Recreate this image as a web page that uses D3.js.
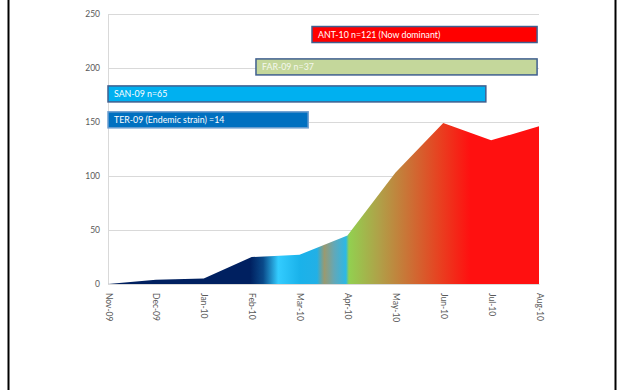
<!DOCTYPE html>
<html>
<head>
<meta charset="utf-8">
<script src="https://cdn.jsdelivr.net/npm/d3@7"></script>
<style>
  html, body { margin: 0; padding: 0; background: #fff; }
  svg { display: block; }
</style>
</head>
<body>
<svg id="chart" width="618" height="390"></svg>
<script>
// ---- data ----
const months = ["Nov-09","Dec-09","Jan-10","Feb-10","Mar-10","Apr-10","May-10","Jun-10","Jul-10","Aug-10"];
const cases  = [0, 4, 5, 25, 27, 45, 103, 149, 133, 146];
const yTicks = [0, 50, 100, 150, 200, 250];

const strainLabels = ["ANT-10 n=121 (Now dominant)", "FAR-09 n=37", "SAN-09 n=65", "TER-09 (Endemic strain) =14"];
const strainStart  = [4.26, 3.09, 0, 0];      // in month index units
const strainEnd    = [8.96, 8.96, 7.89, 4.18];
const strainLevel  = [231, 201, 176, 152];    // centre value on the y axis

// ---- styles ----
const strainFill   = ["#ff0000", "#c4d79b", "#00b0f0", "#0070c0"];
const strainStroke = ["#3f5f8f", "#3f5f8f", "#3f5f8f", "#6d9ecf"];
const strainText   = ["#ffffff", "#f4f7ee", "#ffffff", "#ffffff"];

const svg = d3.select("#chart");
const mLeft = 108, mTop = 14, pw = 431, ph = 270;

const x = d3.scaleLinear().domain([0, months.length - 1]).range([mLeft, mLeft + pw]);
const y = d3.scaleLinear().domain([0, 250]).range([mTop + ph, mTop]);

// frame lines
svg.append("line").attr("x1", 8.5).attr("x2", 8.5).attr("y1", 0).attr("y2", 390)
  .attr("stroke", "#000").attr("stroke-width", 2);
svg.append("line").attr("x1", 615.5).attr("x2", 615.5).attr("y1", 0).attr("y2", 390)
  .attr("stroke", "#000").attr("stroke-width", 2);

// gridlines
svg.append("g")
  .attr("transform", `translate(${mLeft},0)`)
  .call(d3.axisLeft(y).tickValues(yTicks).tickSize(-pw).tickFormat(""))
  .call(g => g.select(".domain").remove())
  .call(g => g.selectAll("line").attr("stroke", "#d9d9d9").attr("stroke-width", 1));

// y axis line
svg.append("line").attr("x1", mLeft + 0.5).attr("x2", mLeft + 0.5).attr("y1", mTop).attr("y2", mTop + ph)
  .attr("stroke", "#d9d9d9");

// gradient
const defs = svg.append("defs");
const grad = defs.append("linearGradient").attr("id", "areaGrad")
  .attr("gradientUnits", "userSpaceOnUse")
  .attr("x1", x(0)).attr("x2", x(months.length - 1)).attr("y1", 0).attr("y2", 0);
const stops = [
  [0.00, "#002060"], [0.33, "#002060"], [0.36, "#0a4a8a"], [0.395, "#33ccff"],
  [0.445, "#1ab2ea"], [0.485, "#22b0e6"], [0.502, "#9a9a70"], [0.525, "#62a8b8"],
  [0.552, "#2cb8e6"], [0.559, "#92d050"], [0.63, "#b0a048"], [0.70, "#cc7035"],
  [0.77, "#e84020"], [0.84, "#ff1010"], [1.00, "#ff1010"]
];
grad.selectAll("stop").data(stops).join("stop")
  .attr("offset", d => d[0]).attr("stop-color", d => d[1]);

// area
const area = d3.area()
  .x((d, i) => x(i))
  .y0(y(0))
  .y1(d => y(d));
svg.append("path").datum(cases).attr("d", area).attr("fill", "url(#areaGrad)");

// y axis labels
svg.append("g")
  .attr("transform", `translate(${mLeft},0)`)
  .call(d3.axisLeft(y).tickValues(yTicks).tickSize(0).tickPadding(8))
  .call(g => g.select(".domain").remove())
  .call(g => g.selectAll("text").attr("fill", "#595959")
    .style("font-family", "Lato, 'Open Sans', sans-serif").style("font-size", "8.5px"));

// x axis labels (rotated)
svg.append("g")
  .attr("transform", `translate(0,${mTop + ph})`)
  .call(d3.axisBottom(x).tickValues(d3.range(months.length)).tickSize(0).tickFormat(i => months[i]))
  .call(g => g.select(".domain").attr("stroke", "#d9d9d9"))
  .call(g => g.selectAll("text")
    .attr("fill", "#595959")
    .style("font-family", "Lato, 'Open Sans', sans-serif").style("font-size", "8.5px")
    .attr("text-anchor", "start")
    .attr("dy", "0.35em")
    .attr("transform", "rotate(90)")
    .attr("x", 9).attr("y", 0));

// strain bars
const barH = 16;
const bars = svg.append("g").selectAll("g").data(strainLabels).join("g");
bars.append("rect")
  .attr("x", (d, i) => x(strainStart[i]))
  .attr("y", (d, i) => y(strainLevel[i]) - barH / 2)
  .attr("width", (d, i) => x(strainEnd[i]) - x(strainStart[i]))
  .attr("height", barH)
  .attr("fill", (d, i) => strainFill[i])
  .attr("stroke", (d, i) => strainStroke[i])
  .attr("stroke-width", 1.5);
bars.append("text")
  .attr("x", (d, i) => x(strainStart[i]) + 6)
  .attr("y", (d, i) => y(strainLevel[i]))
  .attr("dy", "0.35em")
  .attr("fill", (d, i) => strainText[i])
  .style("font-family", "Lato, 'Open Sans', sans-serif")
  .style("font-size", "8.8px")
  .text(d => d);
</script>
</body>
</html>
